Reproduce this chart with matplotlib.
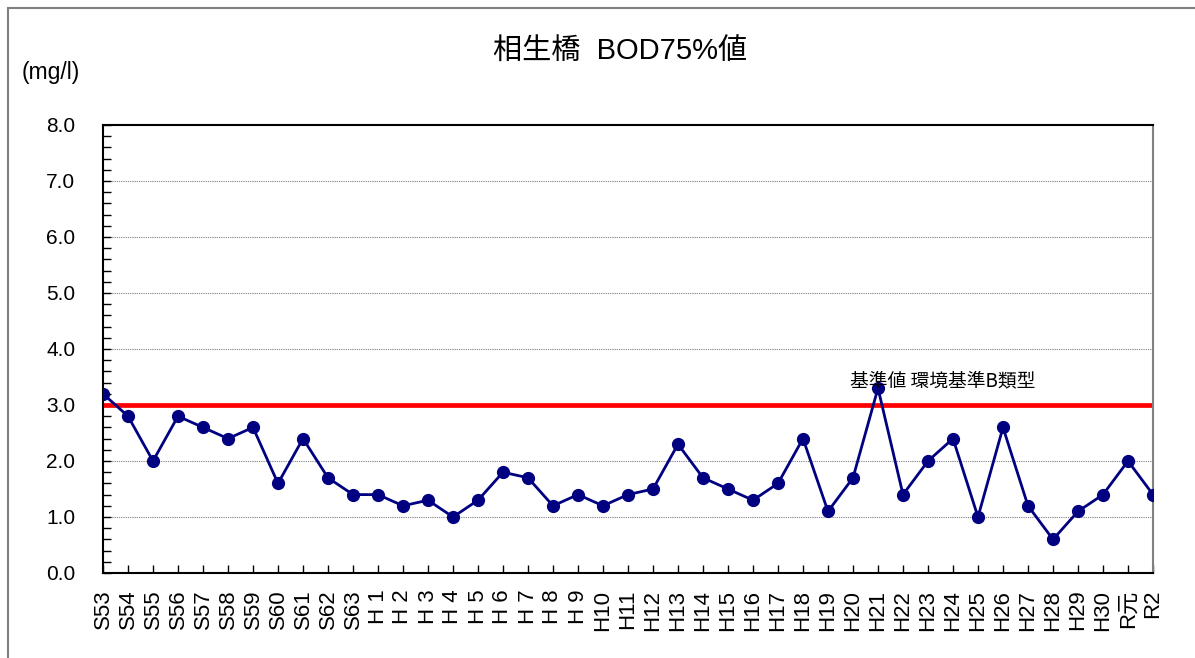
import matplotlib
matplotlib.use("Agg")
import matplotlib.pyplot as plt
from matplotlib.patches import Rectangle
from matplotlib.ticker import MultipleLocator

plt.rcParams['font.family'] = ['Liberation Sans', 'Noto Sans CJK JP', 'DejaVu Sans']

categories = ["S53", "S54", "S55", "S56", "S57", "S58", "S59", "S60", "S61", "S62", "S63",
              "H 1", "H 2", "H 3", "H 4", "H 5", "H 6", "H 7", "H 8", "H 9", "H10",
              "H11", "H12", "H13", "H14", "H15", "H16", "H17", "H18", "H19", "H20",
              "H21", "H22", "H23", "H24", "H25", "H26", "H27", "H28", "H29", "H30",
              "R元", "R2"]
values = [3.2, 2.8, 2.0, 2.8, 2.6, 2.4, 2.6, 1.6, 2.4, 1.7, 1.4,
          1.4, 1.2, 1.3, 1.0, 1.3, 1.8, 1.7, 1.2, 1.4, 1.2,
          1.4, 1.5, 2.3, 1.7, 1.5, 1.3, 1.6, 2.4, 1.1, 1.7,
          3.3, 1.4, 2.0, 2.4, 1.0, 2.6, 1.2, 0.6, 1.1, 1.4,
          2.0, 1.4]
standard_value = 3.0
standard_label = "基準値 環境基準B類型"
title = "相生橋  BOD75%値"
unit_label = "(mg/l)"
y_ticks = [0, 1, 2, 3, 4, 5, 6, 7, 8]

fig = plt.figure(figsize=(11.95, 6.58), dpi=100)
ax = fig.add_axes([103/1195, 1 - 573/658, 1050/1195, 448/658])

x = list(range(len(categories)))
ax.axhline(standard_value, color='#ff0000', lw=3.4, zorder=2)
ax.plot(x, values, color='#000080', lw=2.0, marker='o', markersize=8.5, zorder=3)

ax.set_xlim(0, len(categories) - 1)
ax.set_ylim(0, 8)
ax.set_yticks(y_ticks)
ax.set_yticklabels([f"{v:.1f}" for v in y_ticks], fontsize=15)
ax.yaxis.set_minor_locator(MultipleLocator(0.2))
ax.set_xticks(x)
ax.set_xticklabels(categories, rotation=90, fontsize=16)

ax.tick_params(axis='y', which='major', direction='in', length=6, width=1.0, pad=20)
ax.tick_params(axis='y', which='minor', direction='in', length=6, width=1.0)
ax.tick_params(axis='x', which='major', direction='in', length=6, width=1.0, pad=12)

for yv in y_ticks[1:-1]:
    ax.axhline(yv, color='#808080', lw=0.8, ls=(0, (1, 1)), zorder=1)

for s in ['left', 'bottom', 'top']:
    ax.spines[s].set_color('black')
    ax.spines[s].set_linewidth(1.5)
ax.spines['right'].set_color('#808080')
ax.spines['right'].set_linewidth(1.5)

ax.text(29.9, 3.43, standard_label, fontsize=13.5, ha='left', va='center',
        family=['Noto Sans CJK JP', 'DejaVu Sans'], zorder=4)

fig.text(620/1195, 1 - 52/658, title, fontsize=21, ha='center', va='center',
         family=['Liberation Sans', 'Noto Sans CJK JP'])
fig.text(22/1195, 1 - 72/658, unit_label, fontsize=16.5, ha='left', va='center')

fig.patches.append(Rectangle((8/1195, -0.05), 1.1, 1 - 8/658 + 0.05, transform=fig.transFigure,
                             fill=False, edgecolor='#808080', lw=1.5))

fig.savefig("out.png", dpi=100)
